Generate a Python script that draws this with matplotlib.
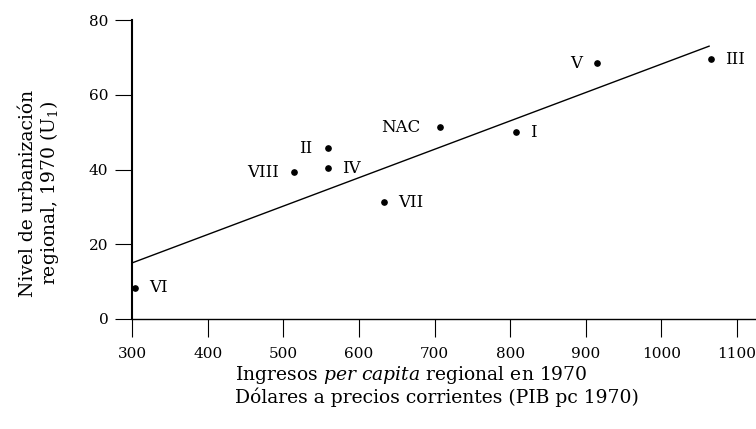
import matplotlib
matplotlib.use("Agg")
import matplotlib.pyplot as plt
import numpy as np

plt.rcParams['font.family'] = ['DejaVu Serif']
plt.rcParams['mathtext.fontset'] = 'custom'
plt.rcParams['mathtext.rm'] = 'DejaVu Serif'
plt.rcParams['mathtext.it'] = 'DejaVu Serif:italic'

# regiones: ingreso per capita 1970 vs nivel de urbanizacion
regiones = ['VI', 'VIII', 'II', 'IV', 'VII', 'NAC', 'I', 'V', 'III']
ingreso = [304, 514, 559, 559, 633, 707, 808, 915, 1066]
urbanizacion = [8.3, 39.3, 45.7, 40.4, 31.3, 51.3, 50.0, 68.4, 69.5]
lado = ['r', 'l', 'l', 'r', 'r', 'l', 'r', 'l', 'r']

# recta de regresion (extremos)
recta_x = [300, 1063]
recta_y = [15.0, 73.0]

fig = plt.figure(figsize=(7.56, 4.29), dpi=100)
ax = fig.add_axes([132/756, 1 - 319/429, 1 - 132/756, (319 - 20)/429])

ax.plot(recta_x, recta_y, color='black', lw=1.0)
ax.plot(ingreso, urbanizacion, 'o', color='black', ms=3.8, clip_on=False)

for r, x, y, s in zip(regiones, ingreso, urbanizacion, lado):
    if s == 'r':
        ax.annotate(r, (x, y), xytext=(10, 0), textcoords='offset points',
                    ha='left', va='center', fontsize=12)
    else:
        dx = -14 if r == 'NAC' else -11
        ax.annotate(r, (x, y), xytext=(dx, 0), textcoords='offset points',
                    ha='right', va='center', fontsize=12)

ax.set_xlim(300, 1125)
ax.set_ylim(0, 80)
ax.set_xticks(np.arange(300, 1101, 100))
ax.set_yticks(np.arange(0, 81, 20))
ax.spines['top'].set_visible(False)
ax.spines['right'].set_visible(False)
ax.spines['left'].set_linewidth(1.5)
ax.spines['bottom'].set_linewidth(1.0)
ax.tick_params(axis='y', length=12, width=0.8, pad=5, labelsize=11)
ax.tick_params(axis='x', length=13, width=0.8, pad=7, labelsize=11)

fig.text(40/756, 1 - 193/429, 'Nivel de urbanización\nregional, 1970 (U$_1$)',
         rotation=90, ha='center', va='center', fontsize=13.5,
         multialignment='center', linespacing=1.05)

fig.text(235/756, 1 - 375/429, 'Ingresos $\\mathit{per\\ capita}$ regional en 1970',
         ha='left', va='center', fontsize=13.5)
fig.text(235/756, 1 - 397/429, 'Dólares a precios corrientes (PIB pc 1970)',
         ha='left', va='center', fontsize=13.5)

fig.savefig('out.png', dpi=100)
